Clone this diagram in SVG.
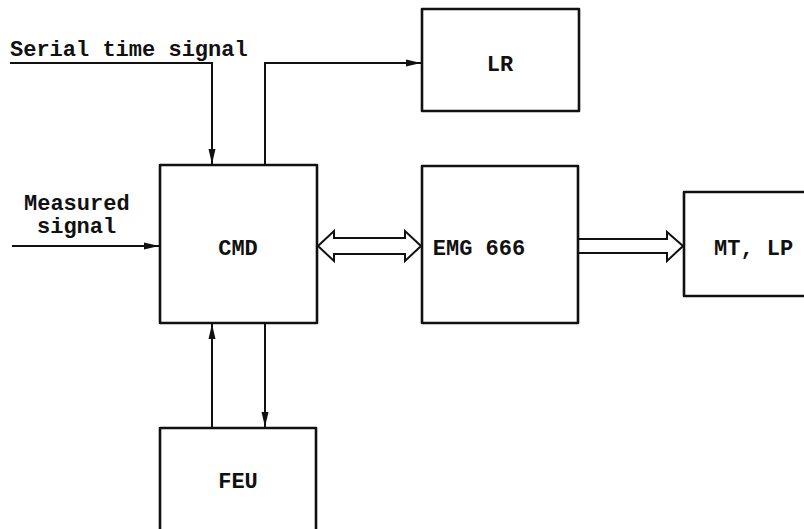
<svg xmlns="http://www.w3.org/2000/svg" width="804" height="529" viewBox="0 0 804 529">
<style>
.box{fill:none;stroke:#111;stroke-width:2.6;stroke-linejoin:round}
.ln{fill:none;stroke:#111;stroke-width:2}
.dbl{fill:#fff;stroke:#111;stroke-width:2;stroke-linejoin:miter}
text{font-family:"Liberation Mono","DejaVu Sans Mono",monospace;font-weight:bold;font-size:22px;fill:#111}
</style>
<defs>
<marker id="ah" markerWidth="16" markerHeight="10" refX="15" refY="5" orient="auto" markerUnits="userSpaceOnUse">
<path d="M0,1.5 L15,5 L0,8.5 Z" fill="#111"/>
</marker>
</defs>
<rect width="804" height="529" fill="#fff"/>
<g id="connectors">
<path class="ln" d="M10,63 H212 V164" marker-end="url(#ah)"/>
<path class="ln" d="M265,165 V63 H421" marker-end="url(#ah)"/>
<path class="ln" d="M12,246 H159" marker-end="url(#ah)"/>
<path class="ln" d="M212,428 V324" marker-end="url(#ah)"/>
<path class="ln" d="M265,323 V427" marker-end="url(#ah)"/>
<path class="dbl" d="M318,246 L334,231 V238 H405 V231 L421,246 L405,261 V254 H334 V261 Z"/>
<path class="dbl" d="M579,239 H667 V232 L683,246 L667,261 V253 H579"/>
</g>
<g id="lbl-serial"><text x="10" y="56">Serial time signal</text></g>
<g id="lbl-measured"><text x="24" y="210">Measured</text><text x="37" y="233">signal</text></g>
<g id="node-lr"><rect class="box" x="422" y="9" width="157" height="102"/><text x="500" y="71" text-anchor="middle">LR</text></g>
<g id="node-cmd"><rect class="box" x="160" y="165" width="157" height="158"/><text x="238" y="255" text-anchor="middle">CMD</text></g>
<g id="node-emg"><rect class="box" x="422" y="166" width="156" height="157"/><text x="479" y="255" text-anchor="middle">EMG 666</text></g>
<g id="node-mt"><rect class="box" x="684" y="192" width="140" height="104"/><text x="714" y="255">MT, LP</text></g>
<g id="node-feu"><rect class="box" x="160" y="428" width="156" height="120"/><text x="238" y="488" text-anchor="middle">FEU</text></g>
</svg>
